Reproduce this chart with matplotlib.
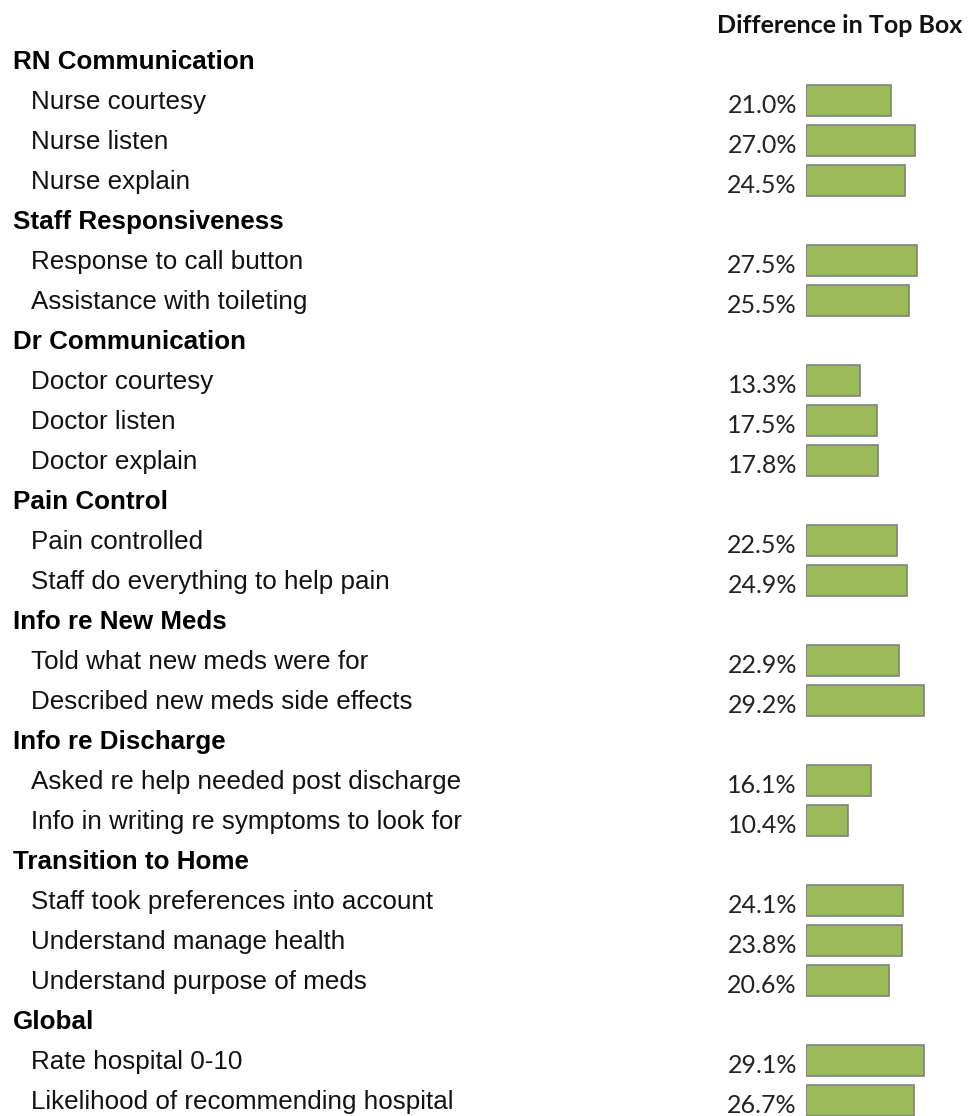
import matplotlib
matplotlib.use("Agg")
import matplotlib.pyplot as plt
from matplotlib.transforms import blended_transform_factory

# Data
groups = [
    "RN Communication",
    "Staff Responsiveness",
    "Dr Communication",
    "Pain Control",
    "Info re New Meds",
    "Info re Discharge",
    "Transition to Home",
    "Global",
]
group_items = [
    ["Nurse courtesy", "Nurse listen", "Nurse explain"],
    ["Response to call button", "Assistance with toileting"],
    ["Doctor courtesy", "Doctor listen", "Doctor explain"],
    ["Pain controlled", "Staff do everything to help pain"],
    ["Told what new meds were for", "Described new meds side effects"],
    ["Asked re help needed post discharge", "Info in writing re symptoms to look for"],
    ["Staff took preferences into account", "Understand manage health",
     "Understand purpose of meds"],
    ["Rate hospital 0-10", "Likelihood of recommending hospital"],
]
group_values = [
    [21.0, 27.0, 24.5],
    [27.5, 25.5],
    [13.3, 17.5, 17.8],
    [22.5, 24.9],
    [22.9, 29.2],
    [16.1, 10.4],
    [24.1, 23.8, 20.6],
    [29.1, 26.7],
]
header = "Difference in Top Box"

W, H = 969, 1116
fig = plt.figure(figsize=(W / 100, H / 100), dpi=100)
fig.patch.set_facecolor("white")

# bar axes: starts at the bar baseline, ~4.04 px per percentage point
bar_left = 806
px_per_pct = 4.04
ax = fig.add_axes([bar_left / W, 0, (W - bar_left) / W, 1])
ax.set_xlim(0, (W - bar_left) / px_per_pct)
row_px, first_px = 40, 60
ax.set_ylim((H - first_px) / row_px, -first_px / row_px)
ax.axis("off")

trans = blended_transform_factory(fig.transFigure, ax.transData)
label_font = "Liberation Sans"
value_font = "Lato"

row = 0
for g, items, vals in zip(groups, group_items, group_values):
    ax.text(13 / W, row + 0.23, g, transform=trans, fontsize=18.7,
            fontweight="bold", family=label_font, color="#000000",
            va="baseline", ha="left")
    row += 1
    for name, v in zip(items, vals):
        ax.text(31 / W, row + 0.23, name, transform=trans, fontsize=18.7,
                family=label_font, color="#111111", va="baseline", ha="left")
        ax.barh(row, v, height=0.775, left=0, color="#9BBB59",
                edgecolor="#808080", linewidth=1.2)
        ax.annotate(f"{v:.1f}%", xy=(0, row + 0.325), xytext=(-6.5, 0),
                    textcoords="offset points", ha="right", va="baseline",
                    fontsize=18, family=value_font, color="#222222")
        row += 1

ax.text(840 / W, -0.675, header, transform=trans, fontsize=18,
        fontweight="bold", family=value_font, color="#111111",
        ha="center", va="baseline")

fig.savefig("out.png", dpi=100, facecolor="white")
